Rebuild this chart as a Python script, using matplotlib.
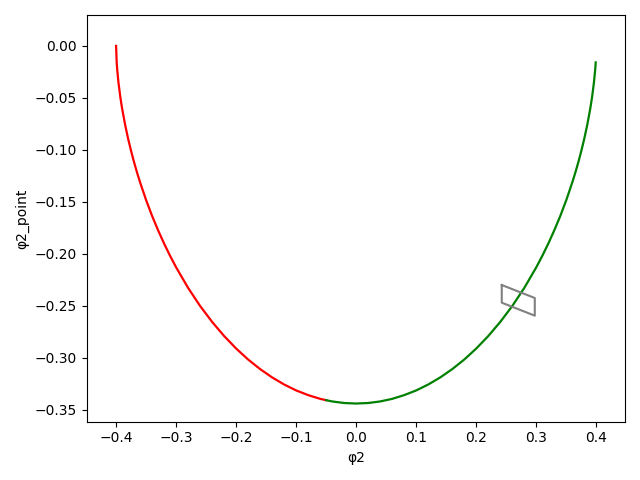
import matplotlib
matplotlib.use("Agg")
import matplotlib.pyplot as plt

# Red branch (left part of the trajectory)
red_phi = [-0.400, -0.399, -0.398, -0.396, -0.393, -0.390, -0.385, -0.380, -0.375,
           -0.370, -0.365, -0.360, -0.350, -0.340, -0.330, -0.320, -0.310, -0.300,
           -0.280, -0.260, -0.240, -0.220, -0.200, -0.180, -0.160, -0.140, -0.120,
           -0.100, -0.080, -0.060, -0.050]
red_dphi = [0.0000, -0.0159, -0.0238, -0.0355, -0.0490, -0.0601, -0.0757, -0.0892,
            -0.1011, -0.1120, -0.1220, -0.1313, -0.1483, -0.1636, -0.1774, -0.1902,
            -0.2020, -0.2130, -0.2328, -0.2502, -0.2655, -0.2791, -0.2911, -0.3017,
            -0.3109, -0.3189, -0.3257, -0.3314, -0.3359, -0.3395, -0.3408]

# Green branch (right part of the trajectory)
green_phi = [-0.050, -0.040, -0.020, 0.000, 0.020, 0.040, 0.060, 0.080, 0.100, 0.120,
             0.140, 0.160, 0.180, 0.200, 0.220, 0.240, 0.260, 0.280, 0.300, 0.310,
             0.320, 0.330, 0.340, 0.350, 0.360, 0.365, 0.370, 0.375, 0.380, 0.385,
             0.390, 0.393, 0.396, 0.398, 0.399]
green_dphi = [-0.3408, -0.3420, -0.3435, -0.3440, -0.3435, -0.3420, -0.3395, -0.3359,
              -0.3314, -0.3257, -0.3189, -0.3109, -0.3017, -0.2911, -0.2791, -0.2655,
              -0.2502, -0.2328, -0.2130, -0.2020, -0.1902, -0.1774, -0.1636, -0.1483,
              -0.1313, -0.1220, -0.1120, -0.1011, -0.0892, -0.0757, -0.0601, -0.0490,
              -0.0355, -0.0238, -0.0159]

# Gray parallelogram (closed outline)
box_phi = [0.2425, 0.2975, 0.2975, 0.2425, 0.2425]
box_dphi = [-0.2300, -0.2425, -0.2595, -0.2470, -0.2300]

fig, ax = plt.subplots(figsize=(6.4, 4.8), dpi=100)
ax.plot(red_phi, red_dphi, color="red", linewidth=1.6)
ax.plot(green_phi, green_dphi, color="green", linewidth=1.6)
ax.plot(box_phi, box_dphi, color="gray", linewidth=1.5)
ax.set_xlim(-0.4488, 0.4478)
ax.set_ylim(-0.3615, 0.0297)
ax.set_xlabel("φ2")
ax.set_ylabel("φ2_point")
fig.tight_layout()
fig.savefig("out.png", dpi=100)
